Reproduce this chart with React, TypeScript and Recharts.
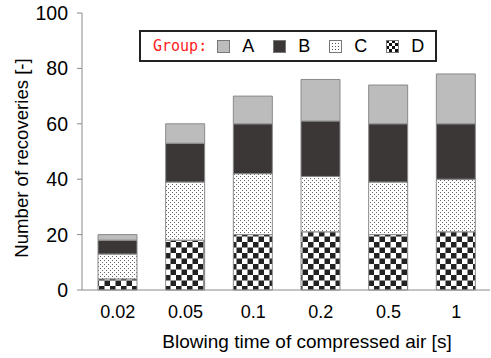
import React from 'react';
import { BarChart, Bar, XAxis, YAxis, Legend, Label } from 'recharts';

const categories = ['0.02', '0.05', '0.1', '0.2', '0.5', '1'];
const seriesD = [4, 18, 20, 21, 20, 21];
const seriesC = [9, 21, 22, 20, 19, 19];
const seriesB = [5, 14, 18, 20, 21, 20];
const seriesA = [2, 7, 10, 15, 14, 18];
const yTicks = [0, 20, 40, 60, 80, 100];
const seriesNames = ['A', 'B', 'C', 'D'];
const legendTitle = 'Group:';
const xTitle = 'Blowing time of compressed air [s]';
const yTitle = 'Number of recoveries [-]';

const data = categories.map((c, i) => ({
  cat: c,
  A: seriesA[i],
  B: seriesB[i],
  C: seriesC[i],
  D: seriesD[i],
}));

const FONT = '"Liberation Sans", Arial, sans-serif';
const STROKE = '#8a8a8a';

const fills: Record<string, string> = {
  A: '#bcbcbc',
  B: '#3b3737',
  C: 'url(#dots)',
  D: 'url(#checker)',
};

const legendFills: Record<string, string> = {
  A: '#bcbcbc',
  B: '#3b3737',
  C: 'url(#ldots)',
  D: 'url(#lchecker)',
};

const LegendBox = () => (
  <div
    style={{
      position: 'absolute',
      left: 139,
      top: 30,
      width: 294,
      height: 28,
      border: '2px solid #222',
      background: '#fff',
      display: 'flex',
      alignItems: 'center',
      fontFamily: FONT,
      fontSize: 18,
      color: '#000',
      boxSizing: 'content-box',
    }}
  >
    <svg width={0} height={0} style={{ position: 'absolute' }}>
      <defs>
        <pattern id="ldots" width="3" height="3" patternUnits="userSpaceOnUse">
          <rect width="3" height="3" fill="#fff" />
          <rect x="0" y="0" width="1" height="1" fill="#555" />
        </pattern>
        <pattern id="lchecker" width="6" height="6" patternUnits="userSpaceOnUse">
          <rect width="6" height="6" fill="#fff" />
          <rect x="0" y="0" width="3" height="3" fill="#111" />
          <rect x="3" y="3" width="3" height="3" fill="#111" />
        </pattern>
      </defs>
    </svg>
    <span
      style={{
        fontFamily: '"DejaVu Sans Mono", "Liberation Mono", monospace',
        fontSize: 15,
        color: '#ff1a1a',
        marginLeft: 12,
        marginRight: 10,
      }}
    >
      {legendTitle}
    </span>
    {seriesNames.map((n) => (
      <span key={n} style={{ display: 'inline-flex', alignItems: 'center', marginRight: 19 }}>
        <svg width={13} height={13} style={{ marginRight: 12 }}>
          <rect x={0.5} y={0.5} width={12} height={12} fill={legendFills[n]} stroke="#777" />
        </svg>
        <span>{n}</span>
      </span>
    ))}
  </div>
);

export default function App() {
  return (
    <div style={{ position: 'absolute', left: 0, top: 0, width: 491, height: 358, background: '#fff' }}>
      <BarChart
        width={491}
        height={358}
        data={data}
        margin={{ top: 13, right: 1, left: 0, bottom: 0 }}
        barSize={39}
      >
        <defs>
          <pattern id="dots" width="4" height="4" patternUnits="userSpaceOnUse">
            <rect width="4" height="4" fill="#fff" />
            <rect x="0" y="0" width="1" height="1" fill="#666" />
            <rect x="2" y="2" width="1" height="1" fill="#666" />
          </pattern>
          <pattern id="checker" width="11" height="11" patternUnits="userSpaceOnUse">
            <rect width="11" height="11" fill="#fff" />
            <rect x="0" y="0" width="5.5" height="5.5" fill="#222" />
            <rect x="5.5" y="5.5" width="5.5" height="5.5" fill="#222" />
          </pattern>
        </defs>
        <XAxis
          dataKey="cat"
          height={68}
          padding={{ left: 2, right: 0 }}
          axisLine={{ stroke: STROKE }}
          tickLine={false}
          tickSize={6}
          tickMargin={9}
          tick={{ fill: '#000', fontSize: 18, fontFamily: FONT }}
        >
          <Label
            content={() => (
              <text x={307} y={348} textAnchor="middle" fontSize={19} fontFamily={FONT} fill="#000">
                {xTitle}
              </text>
            )}
          />
        </XAxis>
        <YAxis
          width={82}
          domain={[0, 100]}
          ticks={yTicks}
          interval={0}
          axisLine={{ stroke: STROKE }}
          tickLine={{ stroke: STROKE }}
          tickSize={5}
          tickMargin={9}
          tick={{ fill: '#000', fontSize: 19.5, fontFamily: FONT }}
        >
          <Label
            content={() => (
              <text
                x={28}
                y={158}
                textAnchor="middle"
                fontSize={18.6}
                fontFamily={FONT}
                fill="#000"
                transform="rotate(-90 28 158)"
              >
                {yTitle}
              </text>
            )}
          />
        </YAxis>
        <Legend content={() => <LegendBox />} wrapperStyle={{ position: 'absolute', left: 0, top: 0, width: 0, height: 0 }} />
        {['D', 'C', 'B', 'A'].map((k) => (
          <Bar key={k} dataKey={k} stackId="s" fill={fills[k]} stroke={STROKE} strokeWidth={1} isAnimationActive={false} />
        ))}
      </BarChart>
    </div>
  );
}
